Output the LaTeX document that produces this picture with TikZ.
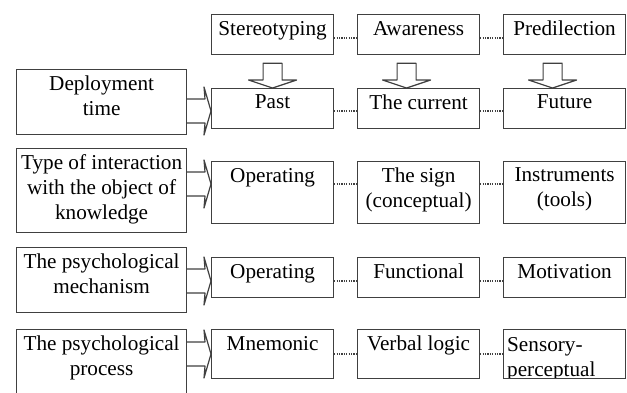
\documentclass[tikz,border=0pt]{standalone}
\usepackage{fontspec}
\setmainfont{Liberation Serif}
\usetikzlibrary{calc}
\newcommand\wsfont{\fontsize{10.6}{12.5}\selectfont}
\tikzset{
  ws grid/.style={
    x=0.5pt,
    y=-0.5pt,
    line cap=butt,
    line join=miter
  },
  ws cell/.style={
    draw=black!75,
    line width=0.6pt,
    fill=white,
    minimum width=61pt,
    anchor=north west,
    inner sep=0pt
  },
  ws head/.style={
    ws cell,
    minimum width=85pt
  },
  ws text/.style={
    font=\wsfont,
    anchor=north,
    inner xsep=1pt,
    inner ysep=3.3pt,
    align=center
  },
  ws left text/.style={
    font=\wsfont,
    anchor=north west,
    inner xsep=1pt,
    inner ysep=3.6pt,
    text width=58pt,
    align=left
  },
  ws dots/.style={
    draw=black!75,
    line width=0.6pt,
    dash pattern=on 0.6pt off 0.6pt
  },
  ws block/.style={
    draw=black!75,
    line width=0.6pt,
    line join=round,
    fill=white
  }
}
\newcommand\rightblock[3]{%
  \draw[ws block] ($(#1.east |- #3)+(0,-12)$) -- ($(#2.west |- #3)+(-6,-12)$)
    -- ($(#2.west |- #3)+(-7,-24)$) -- (#2.west |- #3)
    -- ($(#2.west |- #3)+(-7,24)$) -- ($(#2.west |- #3)+(-6,12)$)
    -- ($(#1.east |- #3)+(0,12)$);}
\newcommand\downblock[3]{%
  \draw[ws block] ($(#1.south)+(#3-9.5,8)$) -- ($(#2.north)+(#3-9.5,-8)$)
    -- ($(#2.north)+(#3-24,-8)$) -- ($(#2.north)+(#3,0)$)
    -- ($(#2.north)+(#3+24,-8)$) -- ($(#2.north)+(#3+9.5,-8)$)
    -- ($(#1.south)+(#3+9.5,8)$) -- cycle;}

\begin{document}
\begin{tikzpicture}[ws grid]
  \clip (0,0) rectangle (627,392);
  \coordinate (r0) at (0,38);
  \coordinate (r1) at (0,111);
  \coordinate (r2) at (0,184);
  \coordinate (r3) at (0,281);
  \coordinate (r4) at (0,354);

  \node[ws cell, minimum height=20pt, label={[ws text]north:Stereotyping}] (stereo) at (211,14) {};
  \node[ws cell, minimum height=20pt, label={[ws text]north:Awareness}] (aware) at (357,14) {};
  \node[ws cell, minimum height=20pt, label={[ws text]north:Predilection}] (predil) at (503,14) {};

  \node[ws head, minimum height=32.5pt, label={[ws text]north:Deployment\\time}] (deploy) at (16,69) {};
  \node[ws cell, minimum height=20pt, label={[ws text]north:Past}] (past) at (211,88) {};
  \node[ws cell, minimum height=20pt, label={[ws text]north:The current}] (current) at (357,88) {};
  \node[ws cell, minimum height=20pt, label={[ws text]north:Future}] (future) at (503,88) {};

  \node[ws head, minimum height=42pt, label={[ws text]north:Type of interaction\\with the object of\\knowledge}] (interact) at (16,148) {};
  \node[ws cell, minimum height=31pt, label={[ws text]north:Operating}] (oper1) at (211,161) {};
  \node[ws cell, minimum height=31pt, label={[ws text]north:The sign\\(conceptual)}] (sign) at (357,161) {};
  \node[ws cell, minimum height=31pt, label={[ws text]north:Instruments\\(tools)}] (instr) at (503,161) {};

  \node[ws head, minimum height=32.5pt, label={[ws text]north:The psychological\\mechanism}] (mechan) at (16,247) {};
  \node[ws cell, minimum height=20pt, label={[ws text]north:Operating}] (oper2) at (211,257) {};
  \node[ws cell, minimum height=20pt, label={[ws text]north:Functional}] (funct) at (357,257) {};
  \node[ws cell, minimum height=20pt, label={[ws text]north:Motivation}] (motiv) at (503,257) {};

  \node[ws head, minimum height=40pt, label={[ws text]north:The psychological\\process}] (process) at (16,329) {};
  \node[ws cell, minimum height=24.5pt, label={[ws text]north:Mnemonic}] (mnemo) at (211,329) {};
  \node[ws cell, minimum height=24.5pt, label={[ws text]north:Verbal logic}] (verbal) at (357,329) {};
  \node[ws cell, minimum height=24.5pt,
        path picture={\node[ws left text]
          at (path picture bounding box.north west) {Sensory-\\perceptual};}] (sensory) at (503,329) {};

  \draw[ws dots] (stereo.east |- r0) -- (aware.west |- r0);
  \draw[ws dots] (aware.east |- r0) -- (predil.west |- r0);
  \draw[ws dots] (past.east |- r1) -- (current.west |- r1);
  \draw[ws dots] (current.east |- r1) -- (future.west |- r1);
  \draw[ws dots] (oper1.east |- r2) -- (sign.west |- r2);
  \draw[ws dots] (sign.east |- r2) -- (instr.west |- r2);
  \draw[ws dots] (oper2.east |- r3) -- (funct.west |- r3);
  \draw[ws dots] (funct.east |- r3) -- (motiv.west |- r3);
  \draw[ws dots] (mnemo.east |- r4) -- (verbal.west |- r4);
  \draw[ws dots] (verbal.east |- r4) -- (sensory.west |- r4);

  \downblock{stereo}{past}{0}
  \downblock{aware}{current}{-12}
  \downblock{predil}{future}{-12}

  \rightblock{deploy}{past}{r1}
  \rightblock{interact}{oper1}{r2}
  \rightblock{mechan}{oper2}{r3}
  \rightblock{process}{mnemo}{r4}
\end{tikzpicture}
\end{document}
